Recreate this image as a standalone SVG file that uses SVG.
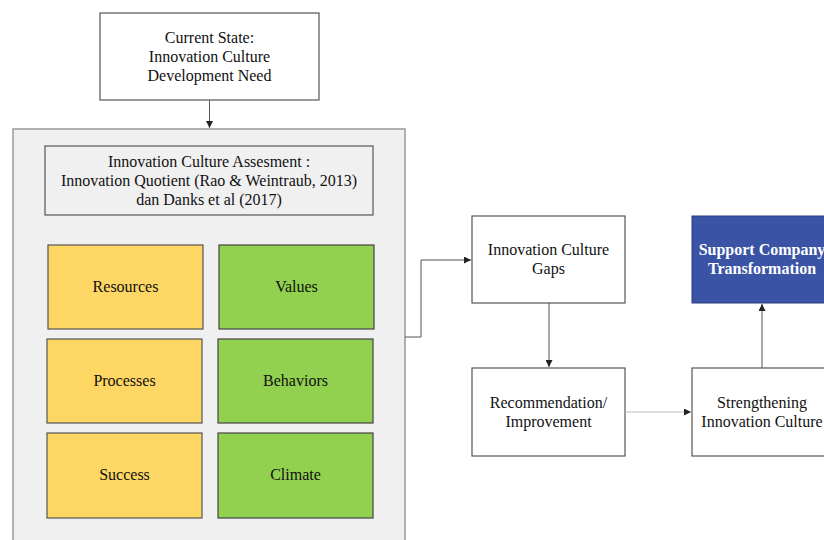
<svg xmlns="http://www.w3.org/2000/svg" width="824" height="540" viewBox="0 0 824 540">
<style>
text{font-family:"Liberation Serif","Times New Roman",Times,serif;font-size:16px;fill:#111;text-anchor:middle}
.w{fill:#fff;stroke:#555;stroke-width:1.2}
.y{fill:#fdd663;stroke:#555;stroke-width:1.2}
.g{fill:#92d050;stroke:#444;stroke-width:1.2}
.c{fill:none;stroke:#555;stroke-width:1}
.b{font-weight:bold;fill:#fff}
</style>
<defs>
<marker id="a" viewBox="0 0 10 10" refX="10" refY="5" markerWidth="7" markerHeight="7" orient="auto" markerUnits="userSpaceOnUse"><path d="M0,0L10,5L0,10z" fill="#222"/></marker>
</defs>
<g id="current"><rect class="w" x="100" y="13" width="219" height="87"/><text x="209.5" y="43">Current State:</text><text x="209.5" y="62">Innovation Culture</text><text x="209.5" y="81">Development Need</text></g>
<g id="assessment-area"><rect x="13" y="129" width="392" height="430" fill="#f0f0f0" stroke="#999" stroke-width="1.5"/></g>
<g id="assessment"><rect x="45" y="146" width="328" height="69" fill="#f0f0f0" stroke="#555" stroke-width="1.2"/><text x="209" y="167">Innovation Culture Assesment :</text><text x="209" y="186">Innovation Quotient (Rao &amp; Weintraub, 2013)</text><text x="209" y="205">dan Danks et al (2017)</text></g>
<g id="resources"><rect class="y" x="48" y="245" width="155" height="84" stroke="#8fa3d0"/><text x="125.5" y="292">Resources</text></g>
<g id="values"><rect class="g" x="219" y="245" width="155" height="84"/><text x="296.5" y="292">Values</text></g>
<g id="processes"><rect class="y" x="47" y="339" width="155" height="84"/><text x="124.5" y="386">Processes</text></g>
<g id="behaviors"><rect class="g" x="218" y="339" width="155" height="84"/><text x="295.5" y="386">Behaviors</text></g>
<g id="success"><rect class="y" x="47" y="433" width="155" height="85"/><text x="124.5" y="480">Success</text></g>
<g id="climate"><rect class="g" x="218" y="433" width="155" height="85"/><text x="295.5" y="480">Climate</text></g>
<g id="gaps"><rect class="w" x="472" y="216" width="153" height="87"/><text x="548.5" y="255">Innovation Culture</text><text x="548.5" y="274">Gaps</text></g>
<g id="support"><rect x="692" y="216" width="140" height="87" fill="#3a53a4" stroke="#2a3d80" stroke-width="1"/><text class="b" x="762" y="255">Support Company</text><text class="b" x="762" y="274">Transformation</text></g>
<g id="recommendation"><rect class="w" x="472" y="368" width="153" height="88"/><text x="548.5" y="408">Recommendation/</text><text x="548.5" y="427">Improvement</text></g>
<g id="strengthening"><rect class="w" x="692" y="368" width="140" height="88"/><text x="762" y="408">Strengthening</text><text x="762" y="427">Innovation Culture</text></g>
<g id="connectors">
<path class="c" d="M209.5,100V128" marker-end="url(#a)"/>
<path class="c" d="M405,337H421V260H471" marker-end="url(#a)"/>
<path class="c" d="M549,303V367" marker-end="url(#a)"/>
<path d="M625,412H691" fill="none" stroke="#bbb" stroke-width="1" marker-end="url(#a)"/>
<path class="c" d="M762,368V304" marker-end="url(#a)"/>
</g>
</svg>
